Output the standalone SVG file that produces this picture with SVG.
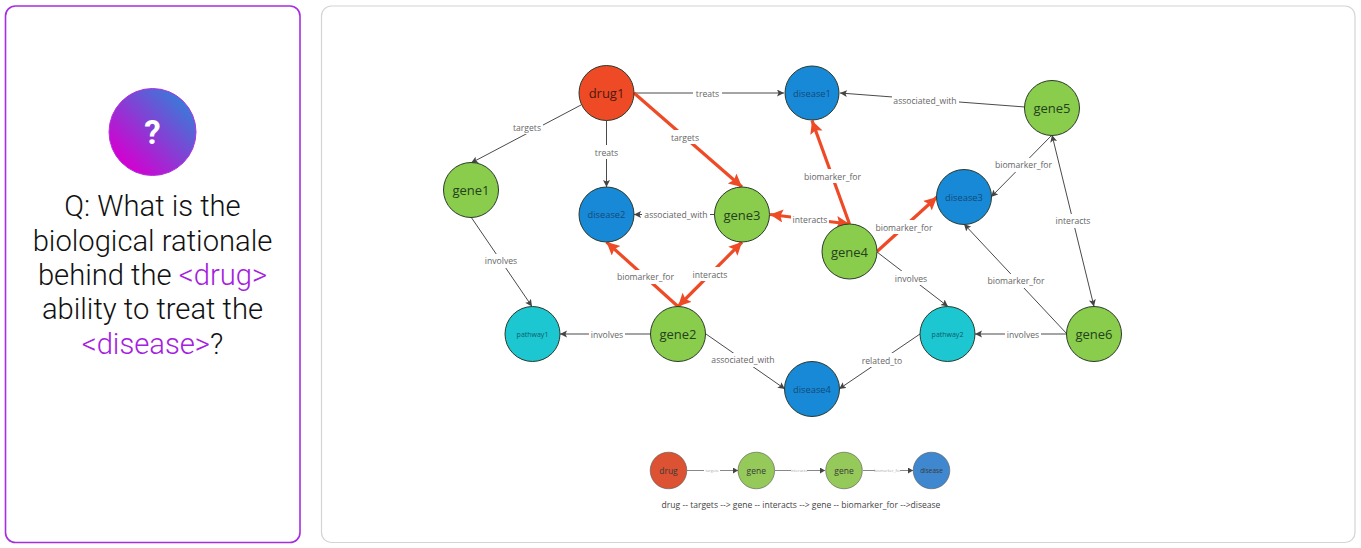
<svg xmlns="http://www.w3.org/2000/svg" width="1361" height="548" viewBox="0 0 1361 548">
<style>
.q{font-family:Roboto,"Liberation Sans",sans-serif;font-weight:300;font-size:29.200px;fill:#111;text-anchor:middle}
.p{fill:#a520e0}
.n{stroke:#2b3a2b;stroke-width:1}
.red{fill:#ef4a26}.blue{fill:#1789d6}.green{fill:#8acd4c}.teal{fill:#1cc7d1}
.t{font-family:"Open Sans","Noto Sans",sans-serif;text-anchor:middle;dominant-baseline:central}
.big{font-size:13px;fill:#24401c}.drug{font-size:13px;fill:#4a1a10}.mid{font-size:9.300px;fill:#154a78}.small{font-size:7px;fill:#0f5a68}
.l{font-family:"Open Sans","Noto Sans",sans-serif;font-size:8.600px;fill:#666;text-anchor:middle;dominant-baseline:central}
.e{fill:none;stroke:#4a4a4a;stroke-width:1;marker-end:url(#a)}
.d{marker-start:url(#as)}
.h{fill:none;stroke:#ef4a26;stroke-width:3.200;marker-end:url(#b)}
.hd{marker-start:url(#bs)}
.g{fill:none;stroke:#888;stroke-width:1;marker-end:url(#c)}
.bg{fill:#fff}
.lt{font-size:8.500px;fill:#3a3a3a}
.ls{font-size:4px;fill:#aaa}
</style>
<defs>
<marker id="a" markerUnits="userSpaceOnUse" markerWidth="8" markerHeight="8" refX="7" refY="3.500" orient="auto"><path d="M0 0L7 3.500L0 7L1.500 3.500Z" fill="#444"/></marker>
<marker id="as" markerUnits="userSpaceOnUse" markerWidth="8" markerHeight="8" refX="7" refY="3.500" orient="auto-start-reverse"><path d="M0 0L7 3.500L0 7L1.500 3.500Z" fill="#444"/></marker>
<marker id="b" markerUnits="userSpaceOnUse" markerWidth="14" markerHeight="14" refX="13" refY="6.500" orient="auto"><path d="M0 0L13 6.500L0 13L2.500 6.500Z" fill="#ef4a26"/></marker>
<marker id="bs" markerUnits="userSpaceOnUse" markerWidth="14" markerHeight="14" refX="13" refY="6.500" orient="auto-start-reverse"><path d="M0 0L13 6.500L0 13L2.500 6.500Z" fill="#ef4a26"/></marker>
<marker id="c" markerUnits="userSpaceOnUse" markerWidth="6" markerHeight="6" refX="5" refY="3" orient="auto"><path d="M0 0L5 3L0 6Z" fill="#444"/></marker>
<linearGradient id="gr" x1="0.15" y1="0.85" x2="0.85" y2="0.15"><stop offset="0" stop-color="#d400d0"/><stop offset="1" stop-color="#3d78d8"/></linearGradient>
</defs>
<rect x="5.500" y="6" width="294.500" height="536.500" rx="10" fill="#fff" stroke="#a52ee0" stroke-width="1.600"/>
<rect x="321.500" y="6" width="1033.500" height="536.500" rx="10" fill="#fff" stroke="#d4d4d4" stroke-width="1.200"/>
<g id="question">
<circle cx="152.500" cy="132" r="43.500" fill="url(#gr)" stroke="#b030e0"/>
<text x="152.500" y="144" style="font-family:Roboto,sans-serif;font-weight:700;font-size:33px;fill:#fff;text-anchor:middle">?</text>
<text class="q" x="152.500" y="216">Q: What is the</text>
<text class="q" x="152.500" y="250.500">biological rationale</text>
<text class="q" x="152.500" y="285">behind the <tspan class="p">&lt;drug&gt;</tspan></text>
<text class="q" x="152.500" y="319">ability to treat the</text>
<text class="q" x="152.500" y="353.500"><tspan class="p">&lt;disease&gt;</tspan>?</text>
</g>
<g id="connectors">
<path class="e" d="M634 93H784"/>
<path class="e" d="M606.500 120.500V187"/>
<path class="e" d="M581 105L471 163"/>
<path class="e" d="M1025 107L840 93"/>
<path class="e" d="M715 214.500H634"/>
<path class="e" d="M1052 135L991 197"/>
<path class="e" d="M471 217L532 306.500"/>
<path class="e" d="M651 334H560"/>
<path class="e" d="M706 334L785 389"/>
<path class="e" d="M920 334L839 389"/>
<path class="e" d="M1067 334H975"/>
<path class="e" d="M1067 334L964 224"/>
<path class="e" d="M877 252L948 306.500"/>
<path class="e d" d="M1052 135L1094 306.500"/>
<path class="h" d="M634 93L742 187"/>
<path class="h" d="M849.500 224L812 120.500"/>
<path class="h hd" d="M770 214.500L849.500 224"/>
<path class="h" d="M877 251.500L937 197"/>
<path class="h" d="M678 306.500L606.500 242"/>
<path class="h hd" d="M678 306.500L742 242"/>
</g>
<g id="edge-labels">
<rect class="bg" x="693" y="86" width="29" height="14"/><text class="l" x="707.500" y="93.500">treats</text>
<rect class="bg" x="592" y="145" width="29" height="14"/><text class="l" x="606.500" y="152.500">treats</text>
<rect class="bg" x="511" y="120" width="32" height="14"/><text class="l" x="527" y="127.500">targets</text>
<rect class="bg" x="669" y="130" width="32" height="14"/><text class="l" x="685" y="137.500">targets</text>
<rect class="bg" x="892" y="93" width="67" height="14"/><text class="l" x="925" y="100.500">associated_with</text>
<rect class="bg" x="642" y="207" width="68" height="14"/><text class="l" x="676" y="214.500">associated_with</text>
<rect class="bg" x="802" y="169" width="61" height="14"/><text class="l" x="832.500" y="176.500">biomarker_for</text>
<rect class="bg" x="791" y="212" width="38" height="14"/><text class="l" x="810" y="219.500">interacts</text>
<rect class="bg" x="874" y="220" width="60" height="14"/><text class="l" x="904" y="227.500">biomarker_for</text>
<rect class="bg" x="993" y="158" width="61" height="14"/><text class="l" x="1023.500" y="165">biomarker_for</text>
<rect class="bg" x="1054" y="214" width="38" height="14"/><text class="l" x="1073" y="221">interacts</text>
<rect class="bg" x="986" y="274" width="61" height="14"/><text class="l" x="1016" y="280.500">biomarker_for</text>
<rect class="bg" x="483" y="254" width="36" height="14"/><text class="l" x="501" y="260.500">involves</text>
<rect class="bg" x="615" y="270" width="61" height="14"/><text class="l" x="645.500" y="277">biomarker_for</text>
<rect class="bg" x="691" y="267" width="38" height="14"/><text class="l" x="710" y="274.500">interacts</text>
<rect class="bg" x="893" y="271" width="36" height="14"/><text class="l" x="911" y="278.500">involves</text>
<rect class="bg" x="589" y="327" width="36" height="14"/><text class="l" x="607" y="334.500">involves</text>
<rect class="bg" x="1005" y="327" width="36" height="14"/><text class="l" x="1023" y="334.500">involves</text>
<rect class="bg" x="710" y="353" width="66" height="14"/><text class="l" x="743" y="360">associated_with</text>
<rect class="bg" x="861" y="353" width="42" height="14"/><text class="l" x="882" y="360.500">related_to</text>
</g>
<g id="drug1"><circle class="n red" cx="606.500" cy="93" r="27.500"/><text class="t drug" x="606.500" y="93">drug1</text></g>
<g id="disease1"><circle class="n blue" cx="812" cy="93" r="27"/><text class="t mid" x="812" y="93">disease1</text></g>
<g id="gene5"><circle class="n green" cx="1052" cy="108" r="27.500"/><text class="t big" x="1052" y="108">gene5</text></g>
<g id="gene1"><circle class="n green" cx="471" cy="190" r="27.500"/><text class="t big" x="471" y="190">gene1</text></g>
<g id="disease2"><circle class="n blue" cx="606.500" cy="214.500" r="27.500"/><text class="t mid" x="606.500" y="214.500">disease2</text></g>
<g id="gene3"><circle class="n green" cx="742" cy="214.500" r="27.500"/><text class="t big" x="742" y="214.500">gene3</text></g>
<g id="disease3"><circle class="n blue" cx="964" cy="197" r="27.500"/><text class="t mid" x="964" y="197">disease3</text></g>
<g id="gene4"><circle class="n green" cx="849.500" cy="251.500" r="27.500"/><text class="t big" x="849.500" y="251.500">gene4</text></g>
<g id="pathway1"><circle class="n teal" cx="532.500" cy="334" r="27.500"/><text class="t small" x="532.500" y="334">pathway1</text></g>
<g id="gene2"><circle class="n green" cx="678" cy="334" r="27.500"/><text class="t big" x="678" y="334">gene2</text></g>
<g id="pathway2"><circle class="n teal" cx="947.500" cy="334" r="27.500"/><text class="t small" x="947.500" y="334">pathway2</text></g>
<g id="gene6"><circle class="n green" cx="1094" cy="334" r="27.500"/><text class="t big" x="1094" y="334">gene6</text></g>
<g id="disease4"><circle class="n blue" cx="812" cy="389" r="27.500"/><text class="t mid" x="812" y="389">disease4</text></g>
<g id="legend-connectors">
<path class="g" d="M687 470.500H738"/><path class="g" d="M775 470.500H825"/><path class="g" d="M863 470.500H913"/>
<rect class="bg" x="704" y="467" width="16" height="7"/><text class="l ls" x="712" y="470.500">targets</text>
<rect class="bg" x="791" y="467" width="16" height="7"/><text class="l ls" x="799" y="470.500">interacts</text>
<rect class="bg" x="875" y="467" width="25" height="7"/><text class="l ls" x="887.500" y="470.500">biomarker_for</text>
</g>
<g id="legend-drug"><circle cx="668.500" cy="470.500" r="18.300" fill="#dc5233" stroke="#555" stroke-width=".6"/><text class="t lt" x="668.500" y="470.500">drug</text></g>
<g id="legend-gene1"><circle cx="756.300" cy="470.500" r="18.300" fill="#95c95a" stroke="#555" stroke-width=".6"/><text class="t lt" x="756.300" y="470.500">gene</text></g>
<g id="legend-gene2"><circle cx="844" cy="470.500" r="18.300" fill="#95c95a" stroke="#555" stroke-width=".6"/><text class="t lt" x="844" y="470.500">gene</text></g>
<g id="legend-disease"><circle cx="931.500" cy="470.500" r="18.300" fill="#3f88d0" stroke="#555" stroke-width=".6"/><text class="t lt" x="931.500" y="470.500" style="font-size:6.500px">disease</text></g>
<text class="l" x="801" y="504.500" style="font-size:8.550px;fill:#444">drug -- targets --&gt; gene -- interacts --&gt; gene -- biomarker_for --&gt;disease</text>
</svg>
